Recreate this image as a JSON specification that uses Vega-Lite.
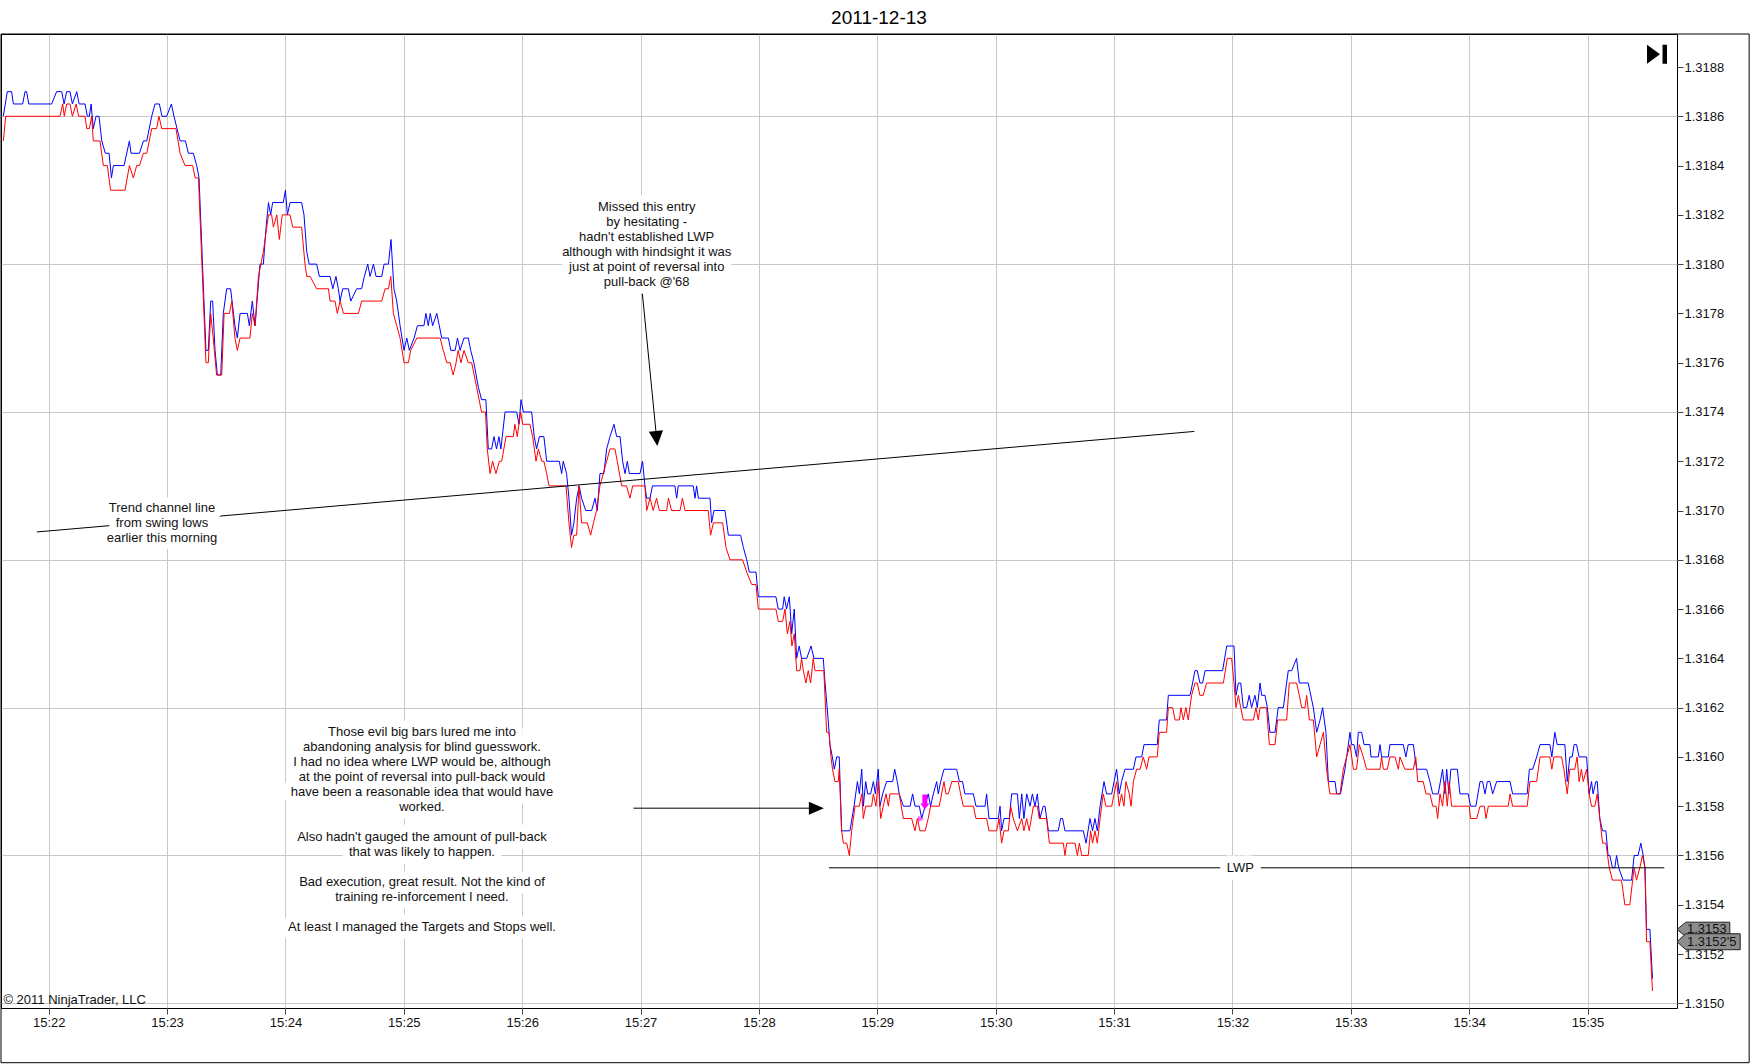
{
"$schema": "https://vega.github.io/schema/vega-lite/v6.json",
"width": 1676, "height": 974,
"autosize": {"type": "none"},
"padding": {"left": 1, "top": 34, "right": 75, "bottom": 56},
"background": "white",
"config": {"view": {"stroke": "black", "strokeWidth": 1}, "font": "Liberation Sans", "axis": {"labelFont": "Liberation Sans"}},
"title": {"text": "2011-12-13", "fontSize": 19, "fontWeight": "normal", "font": "Liberation Sans", "color": "black", "anchor": "middle", "frame": "group", "dx": 40, "offset": 6},
"datasets": {
"ask": [
{"sec":-23,"price":1.3186},{"sec":-21,"price":1.3187},{"sec":-18.8,"price":1.3187},{"sec":-17.9,"price":1.31865},{"sec":-13.2,"price":1.31865},{"sec":-12,"price":1.3187},{"sec":-11.2,"price":1.3187},{"sec":-10.1,"price":1.31865},{"sec":1.5,"price":1.31865},{"sec":4,"price":1.3187},{"sec":6.6,"price":1.3187},{"sec":7.8,"price":1.31865},{"sec":9.1,"price":1.3187},{"sec":10.8,"price":1.3187},{"sec":12,"price":1.31865},{"sec":14.2,"price":1.3187},{"sec":15.4,"price":1.31865},{"sec":18.4,"price":1.31865},{"sec":19.6,"price":1.3186},{"sec":20.6,"price":1.3186},{"sec":21.5,"price":1.31865},{"sec":22.6,"price":1.31855},{"sec":24,"price":1.3186},{"sec":25.5,"price":1.3186},{"sec":26.9,"price":1.3185},{"sec":28.7,"price":1.31845},{"sec":30.6,"price":1.31845},{"sec":31.8,"price":1.31835},{"sec":32.8,"price":1.3184},{"sec":38.2,"price":1.3184},{"sec":40.9,"price":1.3185},{"sec":41.7,"price":1.31845},{"sec":46,"price":1.31845},{"sec":48,"price":1.3185},{"sec":49.7,"price":1.3185},{"sec":52.2,"price":1.3186},{"sec":53.9,"price":1.31865},{"sec":56.1,"price":1.31865},{"sec":57.4,"price":1.3186},{"sec":59.8,"price":1.3186},{"sec":62.2,"price":1.31865},{"sec":63.5,"price":1.3186},{"sec":66.6,"price":1.3185},{"sec":69.3,"price":1.3185},{"sec":70.8,"price":1.31845},{"sec":73.3,"price":1.31845},{"sec":75,"price":1.3184},{"sec":76.2,"price":1.31835},{"sec":79.7,"price":1.31765},{"sec":80.9,"price":1.31765},{"sec":82.1,"price":1.31785},{"sec":83.1,"price":1.31785},{"sec":84.3,"price":1.31765},{"sec":85.5,"price":1.31755},{"sec":87.2,"price":1.31755},{"sec":88.5,"price":1.3178},{"sec":90.2,"price":1.3179},{"sec":92.2,"price":1.3179},{"sec":94.4,"price":1.31775},{"sec":95.6,"price":1.3177},{"sec":97,"price":1.3178},{"sec":100.7,"price":1.3178},{"sec":101.7,"price":1.31775},{"sec":103.2,"price":1.31785},{"sec":104.6,"price":1.31775},{"sec":107.1,"price":1.318},{"sec":108.8,"price":1.318},{"sec":110.2,"price":1.31815},{"sec":111.4,"price":1.31825},{"sec":112.5,"price":1.3182},{"sec":113.5,"price":1.31825},{"sec":118.9,"price":1.31825},{"sec":120,"price":1.3183},{"sec":121,"price":1.3182},{"sec":122.3,"price":1.31825},{"sec":128.2,"price":1.31825},{"sec":129.4,"price":1.3182},{"sec":130.8,"price":1.31805},{"sec":132,"price":1.318},{"sec":135.8,"price":1.318},{"sec":137.2,"price":1.31795},{"sec":142.6,"price":1.31795},{"sec":144,"price":1.3179},{"sec":145.6,"price":1.31795},{"sec":146.8,"price":1.3179},{"sec":147.7,"price":1.31785},{"sec":149,"price":1.3179},{"sec":151.9,"price":1.3179},{"sec":153.1,"price":1.31785},{"sec":156.1,"price":1.3179},{"sec":158.6,"price":1.3179},{"sec":160,"price":1.31795},{"sec":161.7,"price":1.318},{"sec":162.9,"price":1.31795},{"sec":164.6,"price":1.318},{"sec":165.9,"price":1.31795},{"sec":168.8,"price":1.31795},{"sec":170,"price":1.318},{"sec":172.2,"price":1.318},{"sec":173.5,"price":1.3181},{"sec":175,"price":1.3179},{"sec":176.4,"price":1.31785},{"sec":178.1,"price":1.31775},{"sec":180.1,"price":1.31765},{"sec":181.5,"price":1.3177},{"sec":182.8,"price":1.31765},{"sec":185.2,"price":1.3177},{"sec":186.9,"price":1.31775},{"sec":190.2,"price":1.31775},{"sec":191.2,"price":1.3178},{"sec":192.4,"price":1.31775},{"sec":193.4,"price":1.3178},{"sec":194.6,"price":1.31775},{"sec":196.7,"price":1.3178},{"sec":198,"price":1.31775},{"sec":199.2,"price":1.3177},{"sec":202.6,"price":1.3177},{"sec":203.8,"price":1.31765},{"sec":206,"price":1.31765},{"sec":207.2,"price":1.3177},{"sec":208.5,"price":1.31765},{"sec":210.5,"price":1.3177},{"sec":212.7,"price":1.3177},{"sec":213.9,"price":1.31765},{"sec":215.5,"price":1.3176},{"sec":217.8,"price":1.3175},{"sec":219.4,"price":1.31745},{"sec":221.6,"price":1.31745},{"sec":222.8,"price":1.31725},{"sec":224.5,"price":1.31725},{"sec":225.7,"price":1.3173},{"sec":227,"price":1.31725},{"sec":228.2,"price":1.3173},{"sec":229.2,"price":1.31725},{"sec":231.3,"price":1.3174},{"sec":237.2,"price":1.3174},{"sec":238.4,"price":1.31735},{"sec":239.4,"price":1.31745},{"sec":240.6,"price":1.3174},{"sec":244.8,"price":1.3174},{"sec":246.1,"price":1.3173},{"sec":247.3,"price":1.31725},{"sec":248.7,"price":1.3173},{"sec":251,"price":1.3173},{"sec":252.4,"price":1.3172},{"sec":258.8,"price":1.3172},{"sec":260,"price":1.31715},{"sec":260.8,"price":1.3172},{"sec":262.5,"price":1.31715},{"sec":263.7,"price":1.31705},{"sec":265,"price":1.3169},{"sec":266.2,"price":1.31695},{"sec":267.6,"price":1.31705},{"sec":268.9,"price":1.3171},{"sec":270.1,"price":1.31705},{"sec":272.2,"price":1.317},{"sec":275.2,"price":1.317},{"sec":276.9,"price":1.31705},{"sec":278.1,"price":1.317},{"sec":279.4,"price":1.31715},{"sec":281.4,"price":1.31715},{"sec":282.8,"price":1.31725},{"sec":284.5,"price":1.3173},{"sec":286.5,"price":1.31735},{"sec":287.9,"price":1.3173},{"sec":289.6,"price":1.3173},{"sec":290.9,"price":1.3172},{"sec":292.1,"price":1.31715},{"sec":293.3,"price":1.3172},{"sec":294.3,"price":1.31715},{"sec":299.7,"price":1.31715},{"sec":301,"price":1.3172},{"sec":302.2,"price":1.3171},{"sec":303.1,"price":1.31705},{"sec":304.8,"price":1.31705},{"sec":306,"price":1.3171},{"sec":317.4,"price":1.3171},{"sec":318.3,"price":1.31705},{"sec":319.1,"price":1.3171},{"sec":326.7,"price":1.3171},{"sec":327.6,"price":1.31705},{"sec":328.4,"price":1.3171},{"sec":329.3,"price":1.31705},{"sec":335.2,"price":1.31705},{"sec":336,"price":1.31695},{"sec":337.2,"price":1.317},{"sec":342.8,"price":1.317},{"sec":344.5,"price":1.3169},{"sec":350.7,"price":1.3169},{"sec":352.1,"price":1.31685},{"sec":353.8,"price":1.3168},{"sec":355.1,"price":1.31675},{"sec":358.5,"price":1.31675},{"sec":359.7,"price":1.31665},{"sec":368.6,"price":1.31665},{"sec":369.8,"price":1.3166},{"sec":372,"price":1.3166},{"sec":372.8,"price":1.31665},{"sec":374,"price":1.3166},{"sec":375.4,"price":1.31665},{"sec":376.6,"price":1.3165},{"sec":377.9,"price":1.3166},{"sec":379.1,"price":1.3164},{"sec":380.4,"price":1.31645},{"sec":381.6,"price":1.3164},{"sec":384.2,"price":1.3164},{"sec":386.4,"price":1.31645},{"sec":387.9,"price":1.3164},{"sec":392.6,"price":1.3164},{"sec":393.5,"price":1.3163},{"sec":395.1,"price":1.31615},{"sec":396,"price":1.31605},{"sec":397.2,"price":1.316},{"sec":398.2,"price":1.31595},{"sec":399.4,"price":1.316},{"sec":400.7,"price":1.316},{"sec":401.9,"price":1.3157},{"sec":406.1,"price":1.3157},{"sec":408.2,"price":1.3158},{"sec":409.9,"price":1.3159},{"sec":410.9,"price":1.31585},{"sec":412.1,"price":1.31595},{"sec":412.9,"price":1.3158},{"sec":414.1,"price":1.3159},{"sec":415.1,"price":1.31585},{"sec":416.6,"price":1.31585},{"sec":418,"price":1.3159},{"sec":419,"price":1.31585},{"sec":420.5,"price":1.31595},{"sec":421.3,"price":1.3158},{"sec":422.7,"price":1.31585},{"sec":424.7,"price":1.3159},{"sec":427.8,"price":1.3159},{"sec":428.8,"price":1.31595},{"sec":430.1,"price":1.3159},{"sec":431.1,"price":1.31585},{"sec":433.2,"price":1.3158},{"sec":436.6,"price":1.3158},{"sec":437.9,"price":1.31585},{"sec":439.1,"price":1.3158},{"sec":441.3,"price":1.3158},{"sec":442.5,"price":1.31575},{"sec":444.2,"price":1.3158},{"sec":445.8,"price":1.31585},{"sec":447,"price":1.3158},{"sec":448.4,"price":1.31585},{"sec":450.1,"price":1.3159},{"sec":450.9,"price":1.31585},{"sec":452.1,"price":1.3159},{"sec":453.8,"price":1.31595},{"sec":460.2,"price":1.31595},{"sec":461.6,"price":1.3159},{"sec":463.2,"price":1.3159},{"sec":464.4,"price":1.31585},{"sec":468.7,"price":1.31585},{"sec":470,"price":1.3158},{"sec":474.6,"price":1.3158},{"sec":475.4,"price":1.31585},{"sec":476.6,"price":1.31575},{"sec":481.3,"price":1.31575},{"sec":482.2,"price":1.3158},{"sec":483,"price":1.3157},{"sec":484.2,"price":1.31575},{"sec":486.9,"price":1.31575},{"sec":488.1,"price":1.31585},{"sec":491,"price":1.31585},{"sec":492,"price":1.31575},{"sec":493.2,"price":1.31585},{"sec":494.3,"price":1.31575},{"sec":495.7,"price":1.31585},{"sec":497.4,"price":1.3158},{"sec":498.6,"price":1.31585},{"sec":499.9,"price":1.3158},{"sec":501.1,"price":1.31585},{"sec":502.4,"price":1.31575},{"sec":504.1,"price":1.3158},{"sec":505,"price":1.3158},{"sec":506.7,"price":1.3157},{"sec":511.7,"price":1.3157},{"sec":512.9,"price":1.31575},{"sec":513.9,"price":1.31575},{"sec":515.1,"price":1.3157},{"sec":524.4,"price":1.3157},{"sec":525.8,"price":1.31565},{"sec":527.8,"price":1.31575},{"sec":529.1,"price":1.3157},{"sec":530.3,"price":1.31575},{"sec":531.5,"price":1.3157},{"sec":532.9,"price":1.3158},{"sec":534.9,"price":1.3159},{"sec":536.2,"price":1.31585},{"sec":538.8,"price":1.31585},{"sec":540,"price":1.3159},{"sec":541.3,"price":1.31595},{"sec":542.6,"price":1.31585},{"sec":543.8,"price":1.3159},{"sec":545.5,"price":1.31595},{"sec":549.8,"price":1.31595},{"sec":551.1,"price":1.316},{"sec":554,"price":1.316},{"sec":555.2,"price":1.31605},{"sec":561.9,"price":1.31605},{"sec":562.9,"price":1.31615},{"sec":566.6,"price":1.31615},{"sec":567.5,"price":1.31625},{"sec":578.5,"price":1.31625},{"sec":579.8,"price":1.3163},{"sec":581,"price":1.31635},{"sec":582.2,"price":1.31635},{"sec":583.5,"price":1.3163},{"sec":584.9,"price":1.3163},{"sec":586.1,"price":1.31635},{"sec":595,"price":1.31635},{"sec":597.1,"price":1.31645},{"sec":600.8,"price":1.31645},{"sec":601.8,"price":1.31625},{"sec":603,"price":1.3163},{"sec":604.2,"price":1.3163},{"sec":605.5,"price":1.3162},{"sec":607.2,"price":1.3162},{"sec":608.5,"price":1.31625},{"sec":609.7,"price":1.3162},{"sec":611.4,"price":1.31625},{"sec":612.6,"price":1.3162},{"sec":614,"price":1.3163},{"sec":614.8,"price":1.31625},{"sec":616.5,"price":1.31625},{"sec":617.7,"price":1.3162},{"sec":619,"price":1.3161},{"sec":621.6,"price":1.3161},{"sec":623.2,"price":1.3162},{"sec":625.8,"price":1.3162},{"sec":628.3,"price":1.31635},{"sec":630,"price":1.31635},{"sec":632.5,"price":1.3164},{"sec":633.9,"price":1.3163},{"sec":638.4,"price":1.3163},{"sec":641,"price":1.3162},{"sec":642.7,"price":1.3161},{"sec":644.4,"price":1.31615},{"sec":645.7,"price":1.3162},{"sec":647.4,"price":1.3161},{"sec":648.6,"price":1.3159},{"sec":652,"price":1.3159},{"sec":652.8,"price":1.31585},{"sec":654.8,"price":1.31585},{"sec":657,"price":1.31595},{"sec":659.6,"price":1.3161},{"sec":660.4,"price":1.31605},{"sec":661.6,"price":1.31605},{"sec":662.9,"price":1.316},{"sec":663.8,"price":1.3161},{"sec":665.5,"price":1.3161},{"sec":666.7,"price":1.31605},{"sec":669.7,"price":1.31605},{"sec":670.2,"price":1.316},{"sec":673.9,"price":1.316},{"sec":674.8,"price":1.31605},{"sec":675.6,"price":1.316},{"sec":679,"price":1.316},{"sec":679.8,"price":1.31605},{"sec":686.6,"price":1.31605},{"sec":687.9,"price":1.316},{"sec":689.1,"price":1.31605},{"sec":691.7,"price":1.31605},{"sec":692.5,"price":1.316},{"sec":693.4,"price":1.31595},{"sec":698.4,"price":1.31595},{"sec":700.1,"price":1.3159},{"sec":701.5,"price":1.31585},{"sec":704.3,"price":1.31585},{"sec":706.5,"price":1.31595},{"sec":707.7,"price":1.31585},{"sec":708.6,"price":1.31595},{"sec":709.7,"price":1.31585},{"sec":710.7,"price":1.31595},{"sec":714,"price":1.31595},{"sec":715.3,"price":1.31585},{"sec":719.5,"price":1.31585},{"sec":720.7,"price":1.3158},{"sec":723.4,"price":1.3158},{"sec":725.5,"price":1.3159},{"sec":726.8,"price":1.3159},{"sec":728,"price":1.31585},{"sec":729.2,"price":1.3159},{"sec":730.5,"price":1.3159},{"sec":731.9,"price":1.31585},{"sec":733.9,"price":1.3159},{"sec":740.7,"price":1.3159},{"sec":742,"price":1.31585},{"sec":749.4,"price":1.31585},{"sec":750.5,"price":1.31595},{"sec":752.2,"price":1.31595},{"sec":754.2,"price":1.316},{"sec":755.9,"price":1.31605},{"sec":760.9,"price":1.31605},{"sec":761.9,"price":1.316},{"sec":763.4,"price":1.3161},{"sec":764.6,"price":1.31605},{"sec":768.5,"price":1.31605},{"sec":769.7,"price":1.3159},{"sec":771,"price":1.316},{"sec":772.2,"price":1.316},{"sec":773.2,"price":1.31605},{"sec":774.4,"price":1.31605},{"sec":775.7,"price":1.316},{"sec":779.5,"price":1.316},{"sec":780.8,"price":1.31585},{"sec":782,"price":1.3159},{"sec":782.8,"price":1.31585},{"sec":784.2,"price":1.3159},{"sec":784.9,"price":1.3159},{"sec":786.2,"price":1.31575},{"sec":787.6,"price":1.3157},{"sec":789.3,"price":1.3157},{"sec":790.4,"price":1.3156},{"sec":791.3,"price":1.3156},{"sec":792.6,"price":1.31555},{"sec":793.8,"price":1.31555},{"sec":794.7,"price":1.3156},{"sec":795.8,"price":1.31555},{"sec":798,"price":1.3155},{"sec":802.3,"price":1.3155},{"sec":803.6,"price":1.3156},{"sec":805.6,"price":1.3156},{"sec":807,"price":1.31565},{"sec":808.2,"price":1.3156},{"sec":809,"price":1.31555},{"sec":809.9,"price":1.3153},{"sec":811.6,"price":1.3153},{"sec":812.9,"price":1.3151}
],
"bid": [
{"sec":-23,"price":1.3185},{"sec":-21.8,"price":1.3186},{"sec":5.7,"price":1.3186},{"sec":7.1,"price":1.31865},{"sec":7.9,"price":1.3186},{"sec":9.1,"price":1.31865},{"sec":10.8,"price":1.31865},{"sec":12,"price":1.3186},{"sec":13.9,"price":1.31865},{"sec":15.2,"price":1.3186},{"sec":18.4,"price":1.3186},{"sec":19.3,"price":1.31855},{"sec":20.6,"price":1.31855},{"sec":21.8,"price":1.3186},{"sec":22.6,"price":1.3185},{"sec":26,"price":1.3185},{"sec":27.7,"price":1.3184},{"sec":29.7,"price":1.3184},{"sec":31.4,"price":1.3183},{"sec":38.7,"price":1.3183},{"sec":40.9,"price":1.3184},{"sec":42.9,"price":1.31835},{"sec":44.6,"price":1.3184},{"sec":46,"price":1.3184},{"sec":48,"price":1.31845},{"sec":49.7,"price":1.31845},{"sec":52.2,"price":1.31855},{"sec":54.7,"price":1.31855},{"sec":55.9,"price":1.3186},{"sec":57.3,"price":1.31855},{"sec":64.5,"price":1.31855},{"sec":66.6,"price":1.31845},{"sec":69.1,"price":1.3184},{"sec":73,"price":1.3184},{"sec":74.2,"price":1.31835},{"sec":75.9,"price":1.31835},{"sec":79.7,"price":1.3176},{"sec":80.9,"price":1.3176},{"sec":82.1,"price":1.3178},{"sec":83.4,"price":1.3177},{"sec":85.1,"price":1.31755},{"sec":87.7,"price":1.31755},{"sec":88.9,"price":1.3178},{"sec":91.6,"price":1.3178},{"sec":92.8,"price":1.31785},{"sec":94.4,"price":1.3177},{"sec":95.6,"price":1.31765},{"sec":97,"price":1.3177},{"sec":102,"price":1.3177},{"sec":103.2,"price":1.3178},{"sec":104.6,"price":1.31775},{"sec":106.3,"price":1.31795},{"sec":108.8,"price":1.31805},{"sec":110.5,"price":1.31815},{"sec":111.4,"price":1.3182},{"sec":113,"price":1.3182},{"sec":113.9,"price":1.31815},{"sec":115.6,"price":1.3182},{"sec":116.9,"price":1.3181},{"sec":118.4,"price":1.3182},{"sec":122.3,"price":1.3182},{"sec":123.7,"price":1.31815},{"sec":128.2,"price":1.31815},{"sec":129.9,"price":1.318},{"sec":130.8,"price":1.31795},{"sec":132.5,"price":1.31795},{"sec":135.8,"price":1.3179},{"sec":141.8,"price":1.3179},{"sec":142.6,"price":1.31785},{"sec":145.1,"price":1.31785},{"sec":146.3,"price":1.3178},{"sec":147.7,"price":1.31785},{"sec":149.4,"price":1.3178},{"sec":157,"price":1.3178},{"sec":158.6,"price":1.31785},{"sec":168.8,"price":1.31785},{"sec":170.5,"price":1.3179},{"sec":172.2,"price":1.3179},{"sec":173.4,"price":1.31795},{"sec":174.7,"price":1.3178},{"sec":176.4,"price":1.31775},{"sec":178.1,"price":1.3177},{"sec":180.1,"price":1.3176},{"sec":182.3,"price":1.3176},{"sec":183.5,"price":1.31765},{"sec":186.6,"price":1.3177},{"sec":198.4,"price":1.3177},{"sec":200,"price":1.31765},{"sec":201.8,"price":1.3176},{"sec":203.5,"price":1.3176},{"sec":205,"price":1.31755},{"sec":206.5,"price":1.3176},{"sec":207.5,"price":1.31765},{"sec":209,"price":1.3176},{"sec":210.5,"price":1.31765},{"sec":212.7,"price":1.3176},{"sec":214.4,"price":1.3176},{"sec":216.9,"price":1.3175},{"sec":219.4,"price":1.3174},{"sec":221.4,"price":1.3174},{"sec":222.3,"price":1.31725},{"sec":223.7,"price":1.31715},{"sec":225,"price":1.3172},{"sec":226.7,"price":1.31715},{"sec":228.4,"price":1.3172},{"sec":229.6,"price":1.3172},{"sec":231.8,"price":1.3173},{"sec":235.5,"price":1.3173},{"sec":236.3,"price":1.31735},{"sec":237.5,"price":1.3173},{"sec":239.2,"price":1.3174},{"sec":240.2,"price":1.31735},{"sec":243.9,"price":1.31735},{"sec":245.3,"price":1.3173},{"sec":247,"price":1.3172},{"sec":248.2,"price":1.31725},{"sec":249.9,"price":1.3172},{"sec":251,"price":1.3172},{"sec":252.4,"price":1.31715},{"sec":253.6,"price":1.3171},{"sec":262.2,"price":1.3171},{"sec":263.7,"price":1.31695},{"sec":265,"price":1.31685},{"sec":266.2,"price":1.3169},{"sec":267.6,"price":1.3169},{"sec":268.8,"price":1.3171},{"sec":270.1,"price":1.31695},{"sec":273,"price":1.31695},{"sec":274.7,"price":1.3169},{"sec":276.1,"price":1.31695},{"sec":277.7,"price":1.317},{"sec":279.4,"price":1.3171},{"sec":282.8,"price":1.3172},{"sec":284.5,"price":1.31725},{"sec":287,"price":1.31725},{"sec":288.2,"price":1.3172},{"sec":290.4,"price":1.3171},{"sec":292.9,"price":1.3171},{"sec":294.6,"price":1.31705},{"sec":296,"price":1.3171},{"sec":302.2,"price":1.3171},{"sec":303.1,"price":1.317},{"sec":304.8,"price":1.31705},{"sec":306.4,"price":1.317},{"sec":308.1,"price":1.31705},{"sec":309.5,"price":1.317},{"sec":313.2,"price":1.317},{"sec":314.1,"price":1.31705},{"sec":315.7,"price":1.317},{"sec":320,"price":1.317},{"sec":321.2,"price":1.31705},{"sec":322.5,"price":1.317},{"sec":334.3,"price":1.317},{"sec":335.5,"price":1.3169},{"sec":336.9,"price":1.31695},{"sec":341.6,"price":1.31695},{"sec":343.3,"price":1.31685},{"sec":345.3,"price":1.3168},{"sec":351.7,"price":1.3168},{"sec":353.8,"price":1.31675},{"sec":356.3,"price":1.3167},{"sec":358.5,"price":1.3167},{"sec":359.7,"price":1.3166},{"sec":368.6,"price":1.3166},{"sec":369.8,"price":1.31655},{"sec":372,"price":1.31655},{"sec":373.2,"price":1.3166},{"sec":374.4,"price":1.3165},{"sec":375.7,"price":1.31655},{"sec":376.7,"price":1.31645},{"sec":377.9,"price":1.3165},{"sec":379.1,"price":1.31635},{"sec":380.8,"price":1.31635},{"sec":381.6,"price":1.3164},{"sec":382.5,"price":1.31635},{"sec":383.8,"price":1.3163},{"sec":385,"price":1.31635},{"sec":386.2,"price":1.3163},{"sec":387.5,"price":1.3164},{"sec":388.4,"price":1.31635},{"sec":392.9,"price":1.31635},{"sec":394.3,"price":1.3161},{"sec":395.5,"price":1.3161},{"sec":396.5,"price":1.316},{"sec":397.3,"price":1.31595},{"sec":398.5,"price":1.3159},{"sec":400.2,"price":1.3159},{"sec":400.7,"price":1.31595},{"sec":401.9,"price":1.3157},{"sec":402.8,"price":1.31565},{"sec":404.5,"price":1.31565},{"sec":405.8,"price":1.3156},{"sec":407,"price":1.3157},{"sec":408.7,"price":1.3158},{"sec":410.9,"price":1.3158},{"sec":412.1,"price":1.31585},{"sec":412.9,"price":1.31575},{"sec":414.1,"price":1.3158},{"sec":417.1,"price":1.3158},{"sec":418,"price":1.31585},{"sec":419.3,"price":1.3158},{"sec":420.5,"price":1.3159},{"sec":421.7,"price":1.31575},{"sec":423,"price":1.3158},{"sec":424.4,"price":1.31585},{"sec":425.6,"price":1.3158},{"sec":426.4,"price":1.31585},{"sec":431.1,"price":1.31585},{"sec":433.2,"price":1.31575},{"sec":437.4,"price":1.31575},{"sec":439.1,"price":1.3157},{"sec":440.3,"price":1.31575},{"sec":441.6,"price":1.3157},{"sec":444.2,"price":1.3157},{"sec":445.8,"price":1.31575},{"sec":447,"price":1.3158},{"sec":451.4,"price":1.3158},{"sec":452.6,"price":1.31585},{"sec":453.8,"price":1.3159},{"sec":454.8,"price":1.31585},{"sec":456,"price":1.31585},{"sec":457.7,"price":1.3159},{"sec":461,"price":1.3159},{"sec":462.2,"price":1.31585},{"sec":463.6,"price":1.3158},{"sec":468.7,"price":1.3158},{"sec":470,"price":1.31575},{"sec":475.4,"price":1.31575},{"sec":476.6,"price":1.3157},{"sec":480.5,"price":1.3157},{"sec":481.7,"price":1.31575},{"sec":483,"price":1.31565},{"sec":484.2,"price":1.3157},{"sec":486.4,"price":1.3157},{"sec":487.6,"price":1.3158},{"sec":488.9,"price":1.31575},{"sec":491,"price":1.3157},{"sec":493.2,"price":1.31575},{"sec":494.3,"price":1.3157},{"sec":495.7,"price":1.31575},{"sec":497,"price":1.3157},{"sec":499.1,"price":1.3158},{"sec":501.1,"price":1.3158},{"sec":502.1,"price":1.31575},{"sec":505.8,"price":1.31575},{"sec":507.2,"price":1.31565},{"sec":514.3,"price":1.31565},{"sec":515.1,"price":1.3156},{"sec":516,"price":1.31565},{"sec":520.2,"price":1.31565},{"sec":521.4,"price":1.3156},{"sec":522.4,"price":1.31565},{"sec":523.6,"price":1.3156},{"sec":526.9,"price":1.3156},{"sec":528.1,"price":1.3157},{"sec":529.1,"price":1.31565},{"sec":530.3,"price":1.3157},{"sec":531.5,"price":1.31565},{"sec":532.9,"price":1.31575},{"sec":534.5,"price":1.31585},{"sec":535.9,"price":1.3158},{"sec":538.8,"price":1.3158},{"sec":540,"price":1.31585},{"sec":541.3,"price":1.3159},{"sec":542.6,"price":1.3158},{"sec":543.8,"price":1.31585},{"sec":545,"price":1.3158},{"sec":546,"price":1.3159},{"sec":547.7,"price":1.31585},{"sec":548.6,"price":1.3158},{"sec":549.8,"price":1.3159},{"sec":551.4,"price":1.31595},{"sec":553.2,"price":1.31595},{"sec":554.8,"price":1.316},{"sec":556.5,"price":1.31595},{"sec":557.7,"price":1.316},{"sec":561.9,"price":1.316},{"sec":562.9,"price":1.3161},{"sec":566.6,"price":1.3161},{"sec":567.5,"price":1.3162},{"sec":569.7,"price":1.3162},{"sec":570.9,"price":1.31615},{"sec":573.1,"price":1.31615},{"sec":573.9,"price":1.3162},{"sec":575.1,"price":1.31615},{"sec":576.4,"price":1.3162},{"sec":577.6,"price":1.31615},{"sec":579.3,"price":1.31625},{"sec":581,"price":1.3163},{"sec":582.2,"price":1.3163},{"sec":583.5,"price":1.31625},{"sec":585.2,"price":1.31625},{"sec":586.9,"price":1.3163},{"sec":595.4,"price":1.3163},{"sec":597.4,"price":1.3164},{"sec":599.6,"price":1.3164},{"sec":600.8,"price":1.3163},{"sec":601.8,"price":1.3162},{"sec":603,"price":1.31625},{"sec":604.2,"price":1.3162},{"sec":605.5,"price":1.31615},{"sec":610.6,"price":1.31615},{"sec":611.9,"price":1.3162},{"sec":613.1,"price":1.31615},{"sec":614,"price":1.3162},{"sec":617.3,"price":1.3162},{"sec":618.7,"price":1.31605},{"sec":621.6,"price":1.31605},{"sec":622.9,"price":1.31615},{"sec":627.5,"price":1.31615},{"sec":628.8,"price":1.3163},{"sec":632.5,"price":1.3163},{"sec":633.9,"price":1.31625},{"sec":635.1,"price":1.3162},{"sec":636.8,"price":1.3162},{"sec":637.6,"price":1.31625},{"sec":639,"price":1.31615},{"sec":641,"price":1.31615},{"sec":642.7,"price":1.316},{"sec":644.4,"price":1.31605},{"sec":646.1,"price":1.3161},{"sec":647.7,"price":1.31595},{"sec":649.4,"price":1.31585},{"sec":654.5,"price":1.31585},{"sec":656.2,"price":1.31595},{"sec":659.6,"price":1.31605},{"sec":661.3,"price":1.31595},{"sec":662.9,"price":1.31595},{"sec":664.3,"price":1.31605},{"sec":666.3,"price":1.316},{"sec":668,"price":1.31595},{"sec":674.8,"price":1.31595},{"sec":675.6,"price":1.316},{"sec":676.5,"price":1.31595},{"sec":678.5,"price":1.31595},{"sec":679.8,"price":1.316},{"sec":682.4,"price":1.316},{"sec":684.1,"price":1.31595},{"sec":684.9,"price":1.316},{"sec":687.4,"price":1.31595},{"sec":691.7,"price":1.31595},{"sec":692.9,"price":1.316},{"sec":693.9,"price":1.3159},{"sec":696.7,"price":1.3159},{"sec":698.1,"price":1.31585},{"sec":700.1,"price":1.31585},{"sec":701.5,"price":1.3158},{"sec":703.2,"price":1.3158},{"sec":704,"price":1.31575},{"sec":705.2,"price":1.31585},{"sec":706.5,"price":1.3158},{"sec":707.7,"price":1.3159},{"sec":708.9,"price":1.3158},{"sec":709.9,"price":1.3159},{"sec":711.1,"price":1.3158},{"sec":720,"price":1.3158},{"sec":720.7,"price":1.31575},{"sec":723.8,"price":1.31575},{"sec":725.5,"price":1.3158},{"sec":727.7,"price":1.3158},{"sec":728.5,"price":1.31575},{"sec":729.7,"price":1.3158},{"sec":739.8,"price":1.3158},{"sec":740.7,"price":1.31585},{"sec":742,"price":1.3158},{"sec":749.4,"price":1.3158},{"sec":750.8,"price":1.3159},{"sec":754.2,"price":1.3159},{"sec":755.9,"price":1.316},{"sec":760.9,"price":1.316},{"sec":761.9,"price":1.31595},{"sec":762.9,"price":1.316},{"sec":766.8,"price":1.316},{"sec":768,"price":1.31595},{"sec":769.7,"price":1.31585},{"sec":771,"price":1.31595},{"sec":773.5,"price":1.31595},{"sec":774.7,"price":1.316},{"sec":775.7,"price":1.3159},{"sec":776.9,"price":1.31595},{"sec":777.8,"price":1.3159},{"sec":779.5,"price":1.31595},{"sec":780.8,"price":1.31585},{"sec":782,"price":1.3158},{"sec":783.7,"price":1.3158},{"sec":784.9,"price":1.31585},{"sec":786.2,"price":1.31575},{"sec":787.6,"price":1.31565},{"sec":789.3,"price":1.31565},{"sec":791,"price":1.31555},{"sec":792.6,"price":1.3155},{"sec":797.2,"price":1.3155},{"sec":798.9,"price":1.3154},{"sec":801.4,"price":1.3154},{"sec":803.6,"price":1.31555},{"sec":804.8,"price":1.3155},{"sec":806.5,"price":1.31555},{"sec":807.8,"price":1.3156},{"sec":809.2,"price":1.31555},{"sec":809.9,"price":1.31525},{"sec":811.6,"price":1.31525},{"sec":812.9,"price":1.31505}
],
"notes": [
{"sec":303.1,"price":1.3182305,"note":"Missed this entry\nby hesitating -\nhadn't established LWP\nalthough with hindsight it was\njust at point of reversal into\npull-back @'68"},
{"sec":57.4,"price":1.3170085,"note":"Trend channel line\nfrom swing lows\nearlier this morning"},
{"sec":189.2,"price":1.3161023,"note":"Those evil big bars lured me into\nabandoning analysis for blind guesswork.\nI had no idea where LWP would be, although\nat the point of reversal into pull-back would\nhave been a reasonable idea that would have\nworked."},
{"sec":189.2,"price":1.3156761,"note":"Also hadn't gauged the amount of pull-back\nthat was likely to happen."},
{"sec":189.2,"price":1.3154935,"note":"Bad execution, great result. Not the kind of\ntraining re-inforcement I need."},
{"sec":189.2,"price":1.3153109,"note":"At least I managed the Targets and Stops well."},
{"sec":604,"price":1.31555,"note":"LWP"}
],
"notelines": [
{"sec1":-6.0,"price1":1.316913,"sec2":580.7,"price2":1.317321},
{"sec1":300.9,"price1":1.317881,"sec2":308.3,"price2":1.31728},
{"sec1":296.4,"price1":1.315792,"sec2":392.0,"price2":1.315792},
{"sec1":395.5,"price1":1.31555,"sec2":818.9,"price2":1.31555}
]
},
"layer": [
{"data": {"name": "ask"},
 "mark": {"type": "line", "color": "#0000ff", "strokeWidth": 1, "clip": true},
 "encoding": {
  "x": {"field": "sec", "type": "quantitative", "title": null,
   "scale": {"domain": [-24.18, 825.33], "nice": false, "zero": false},
   "axis": {"orient": "bottom", "values": [0,60,120,180,240,300,360,420,480,540,600,660,720,780], "labelExpr": "'15:' + (22 + round(datum.value / 60))", "grid": true, "gridColor": "#c8c8c8", "domain": false, "ticks": true, "tickSize": 6, "tickColor": "#444444", "labelPadding": 2, "labelFontSize": 13, "labelColor": "#111111", "labelFlush": false, "labelOverlap": false}},
  "y": {"field": "price", "type": "quantitative", "title": null,
   "scale": {"domain": [1.314981, 1.318934], "nice": false, "zero": false},
   "axis": {"orient": "right", "values": [1.315,1.3156,1.3162,1.3168,1.3174,1.318,1.3186], "labels": false, "ticks": false, "domain": false, "grid": true, "gridColor": "#c8c8c8"}}
 }},
{"data": {"name": "bid"},
 "mark": {"type": "line", "color": "#ff0000", "strokeWidth": 1, "clip": true},
 "encoding": {
  "x": {"field": "sec", "type": "quantitative", "axis": null},
  "y": {"field": "price", "type": "quantitative", "title": null,
   "axis": {"orient": "right", "values": [1.315,1.3152,1.3154,1.3156,1.3158,1.316,1.3162,1.3164,1.3166,1.3168,1.317,1.3172,1.3174,1.3176,1.3178,1.318,1.3182,1.3184,1.3186,1.3188], "format": ".4f", "grid": false, "domain": false, "tickSize": 6, "tickColor": "#444444", "labelPadding": 1, "labelFontSize": 13, "labelColor": "#111111", "labelFlush": false, "labelOverlap": false}}
 }},
{"data": {"name": "notelines"},
 "mark": {"type": "rule", "color": "black", "strokeWidth": 1},
 "encoding": {
  "x": {"field": "sec1", "type": "quantitative", "axis": null}, "x2": {"field": "sec2"},
  "y": {"field": "price1", "type": "quantitative", "axis": null}, "y2": {"field": "price2"}
 }},
{"data": {"name": "notes"},
 "mark": {"type": "text", "lineBreak": "\n", "lineHeight": 15, "fontSize": 13, "align": "center", "baseline": "middle", "fill": "white", "stroke": "white", "strokeWidth": 15, "strokeJoin": "round"},
 "encoding": {
  "x": {"field": "sec", "type": "quantitative", "axis": null},
  "y": {"field": "price", "type": "quantitative", "axis": null},
  "text": {"field": "note"}
 }},
{"data": {"name": "notes"},
 "mark": {"type": "text", "lineBreak": "\n", "lineHeight": 15, "fontSize": 13, "align": "center", "baseline": "middle", "color": "#111111"},
 "encoding": {
  "x": {"field": "sec", "type": "quantitative", "axis": null},
  "y": {"field": "price", "type": "quantitative", "axis": null},
  "text": {"field": "note"}
 }},
{"data": {"values": [{"sec": 308.5, "price": 1.317262}]},
 "mark": {"type": "point", "shape": "M 0 0 L -0.95 -2 L 0.95 -2 Z", "size": 225, "filled": true, "color": "black", "opacity": 1, "angle": 354.4},
 "encoding": {"x": {"field": "sec", "type": "quantitative", "axis": null}, "y": {"field": "price", "type": "quantitative", "axis": null}}},
{"data": {"values": [{"sec": 392.9, "price": 1.315792}]},
 "mark": {"type": "point", "shape": "M 0 0 L -2 -0.87 L -2 0.87 Z", "size": 225, "filled": true, "color": "black", "opacity": 1},
 "encoding": {"x": {"field": "sec", "type": "quantitative", "axis": null}, "y": {"field": "price", "type": "quantitative", "axis": null}}},
{"data": {"values": [{"sec": 444.1, "price": 1.315817}]},
 "mark": {"type": "point", "shape": "M -0.33 -1 L 0.33 -1 L 0.33 0.2 L 0.6 0.2 L 0 1 L -0.6 0.2 L -0.33 0.2 Z", "size": 225, "filled": true, "color": "#ff00ff", "opacity": 1},
 "encoding": {"x": {"field": "sec", "type": "quantitative", "axis": null}, "y": {"field": "price", "type": "quantitative", "axis": null}}},
{"data": {"values": [{"sec": 442.1, "price": 1.315748}]},
 "mark": {"type": "point", "shape": "triangle-right", "size": 45, "filled": true, "color": "#ff55ff", "opacity": 1},
 "encoding": {"x": {"field": "sec", "type": "quantitative", "axis": null}, "y": {"field": "price", "type": "quantitative", "axis": null}}},
{"data": {"values": [{"note": "© 2011 NinjaTrader, LLC"}]},
 "mark": {"type": "text", "align": "left", "baseline": "middle", "fontSize": 13, "color": "#111111"},
 "encoding": {"x": {"datum": -22.96, "axis": null}, "y": {"datum": 1.3150134, "axis": null}, "text": {"field": "note"}}},
{"data": {"values": [{}]},
 "mark": {"type": "point", "shape": "M -1 -0.95 L 0.3 0 L -1 0.95 Z M 0.55 -0.95 L 1 -0.95 L 1 0.95 L 0.55 0.95 Z", "size": 400, "filled": true, "color": "black", "opacity": 1},
 "encoding": {"x": {"datum": 815.2, "axis": null}, "y": {"datum": 1.318852, "axis": null}}},
{"data": {"values": [{"label": "1.3153", "price": 1.3153}]},
 "layer": [
  {"mark": {"type": "point", "shape": "M 0 0 L 1.1 -0.9 L 6.6 -0.9 L 6.6 0.9 L 1.1 0.9 Z", "size": 256, "filled": true, "fill": "#8c8c8c", "stroke": "#222222", "strokeWidth": 1, "opacity": 1, "clip": false},
   "encoding": {"x": {"value": "width"}, "y": {"field": "price", "type": "quantitative", "axis": null}}},
  {"mark": {"type": "text", "align": "left", "baseline": "middle", "dx": 10, "fontSize": 13, "color": "#111111"},
   "encoding": {"x": {"value": "width"}, "y": {"field": "price", "type": "quantitative", "axis": null}, "text": {"field": "label"}}}
 ]},
{"data": {"values": [{"label": "1.3152'5", "price": 1.31525}]},
 "layer": [
  {"mark": {"type": "point", "shape": "M 0 0 L 1.1 -1 L 7.9 -1 L 7.9 1 L 1.1 1 Z", "size": 256, "filled": true, "fill": "#8c8c8c", "stroke": "#222222", "strokeWidth": 1, "opacity": 1, "clip": false},
   "encoding": {"x": {"value": "width"}, "y": {"field": "price", "type": "quantitative", "axis": null}}},
  {"mark": {"type": "text", "align": "left", "baseline": "middle", "dx": 10, "fontSize": 13, "color": "#111111"},
   "encoding": {"x": {"value": "width"}, "y": {"field": "price", "type": "quantitative", "axis": null}, "text": {"field": "label"}}}
 ]},
{"data": {"values": [{}]},
 "mark": {"type": "rect", "filled": false, "color": "black", "strokeWidth": 1, "clip": false},
 "encoding": {"x": {"datum": -24.18, "axis": null}, "x2": {"datum": 861.9}, "y": {"datum": 1.318934, "axis": null}, "y2": {"datum": 1.314759}}}
],
"resolve": {"axis": {"x": "independent", "y": "independent"}}
}
